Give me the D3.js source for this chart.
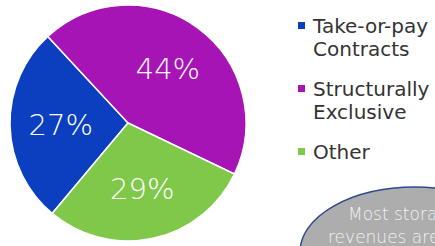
<!DOCTYPE html>
<html>
<head>
<meta charset="utf-8">
<script src="https://cdn.jsdelivr.net/npm/d3@7"></script>
<style>
  html, body { margin: 0; padding: 0; background: #fff; }
  svg { display: block; }
</style>
</head>
<body>
<div id="chart"></div>
<script>
// chart data
var categories = ["Take-or-pay Contracts", "Structurally Exclusive", "Other"];
var shares = [27, 44, 29];
var legendLines = [["Take-or-pay", "Contracts"], ["Structurally", "Exclusive"], ["Other"]];
var calloutLines = ["Most storage", "revenues are"];

var width = 435, height = 246;
var radius = 118;
var cx = 128, cy = 123;

var color = d3.scaleOrdinal()
    .domain(categories)
    .range(["#0b3fc0", "#a614b5", "#80c84a"]);

var svg = d3.select("#chart")
    .append("svg")
    .attr("width", width)
    .attr("height", height);

var data = categories.map(function (c, i) { return { key: c, value: shares[i] }; });

// blue slice starts at about 8 o'clock
var pie = d3.pie()
    .sort(null)
    .value(function (d) { return d.value; })
    .startAngle(220 * Math.PI / 180)
    .endAngle(580 * Math.PI / 180);

var arcGen = d3.arc().innerRadius(0).outerRadius(radius);
var labelArc = d3.arc().innerRadius(radius * 0.57).outerRadius(radius * 0.57);

var g = svg.append("g")
    .attr("transform", "translate(" + cx + "," + cy + ")");

var slices = pie(data);

g.selectAll("path")
    .data(slices)
    .enter()
    .append("path")
    .attr("d", arcGen)
    .attr("fill", function (d) { return color(d.data.key); })
    .attr("stroke", "#ffffff")
    .style("stroke-width", "1.5px");

g.selectAll("text")
    .data(slices)
    .enter()
    .append("text")
    .attr("transform", function (d) { return "translate(" + labelArc.centroid(d) + ")"; })
    .attr("text-anchor", "middle")
    .attr("dy", "0.36em")
    .style("font-family", "'DejaVu Sans', sans-serif")
    .style("font-weight", 200)
    .style("font-size", "29px")
    .style("fill", "#ffffff")
    .text(function (d) { return d.data.value + "%"; });

// legend
var legendY = d3.scalePoint().domain(categories).range([33, 159]);
var lineH = 23;

var leg = svg.append("g").attr("class", "legend");
var items = leg.selectAll("g")
    .data(categories)
    .enter()
    .append("g")
    .attr("transform", function (d) { return "translate(0," + legendY(d) + ")"; });

items.append("rect")
    .attr("x", 298)
    .attr("y", -11)
    .attr("width", 7)
    .attr("height", 7)
    .attr("fill", function (d) { return color(d); });

items.each(function (d, i) {
    var t = d3.select(this).append("text")
        .attr("x", 313)
        .style("font-family", "'DejaVu Sans', sans-serif")
        .style("font-size", "20px")
        .style("fill", "#333333");
    legendLines[i].forEach(function (line, j) {
        t.append("tspan")
            .attr("x", 313)
            .attr("y", j * lineH)
            .text(line);
    });
});

// callout bubble, mostly off the right edge
svg.append("ellipse")
    .attr("cx", 415)
    .attr("cy", 252)
    .attr("rx", 115)
    .attr("ry", 65)
    .attr("fill", "#adadad")
    .attr("stroke", "#2f4a8c")
    .style("stroke-width", "1.5px");

svg.append("g").selectAll("text")
    .data(calloutLines)
    .enter()
    .append("text")
    .attr("x", function (d, i) { return i === 0 ? 348 : 328; })
    .attr("y", function (d, i) { return 220 + i * 23; })
    .style("font-family", "'DejaVu Sans', sans-serif")
    .style("font-weight", 200)
    .style("font-size", "17px")
    .style("fill", "#f2f2f2")
    .text(function (d) { return d; });
</script>
</body>
</html>
